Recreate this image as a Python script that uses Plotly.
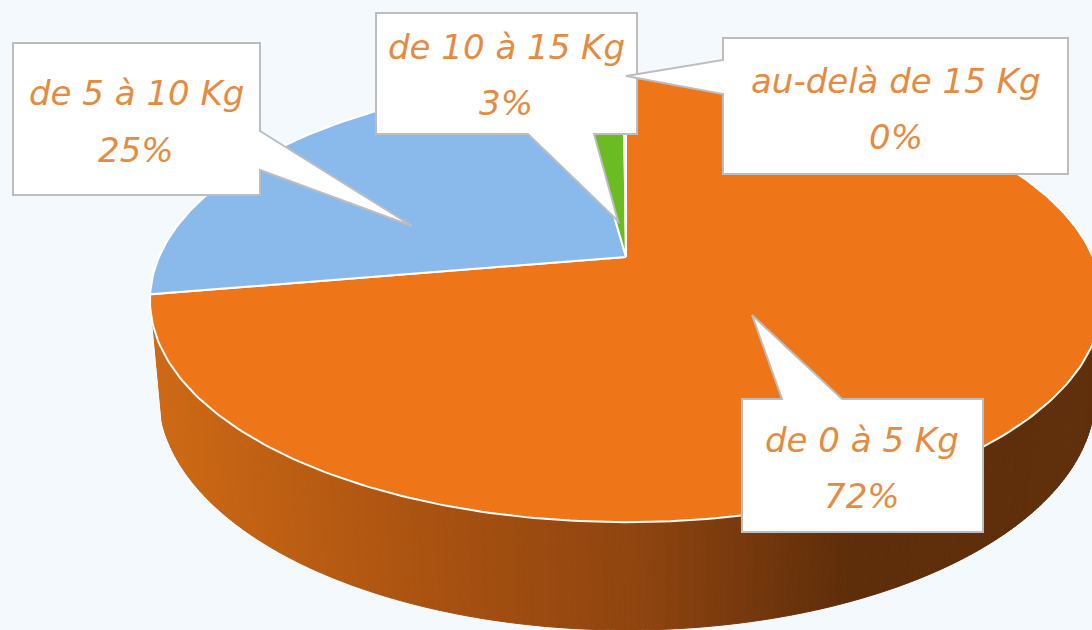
import math
import plotly.graph_objects as go

# Slice shares (clockwise from 12 o'clock)
categories = ["de 0 à 5 Kg", "de 5 à 10 Kg", "de 10 à 15 Kg", "au-delà de 15 Kg"]
values = [72.3, 25.6, 2.0, 0.1]
percent_labels = ["72%", "25%", "3%", "0%"]
slice_colors = ["#EF7519", "#8ABAEC", "#6ABC22", "#A5A5A5"]

W, H = 1092, 630
BG = "#F4F9FD"
TEXT = "#E58B3F"
BORDER = "#BDBDBD"
FONT = "DejaVu Sans"

# perspective view of the disc (pixel space of the axes)
CX, CY, A, B, K = 626, 257, 467, 213.7, 0.194
# underside of the disc
LOW_CX, LOW_CY, LOW_XS, LOW_YS = 627, 349.5, 0.983, 1.058


def project(theta, cx=CX, cy=CY, sx=1.0, sy=1.0):
    X, Y = math.sin(theta), math.cos(theta)
    w = 1 + K * Y
    return cx + sx * A * X / w, cy - sy * B * Y / w


def lerp_color(x):
    stops = [(150, (207, 106, 21)), (430, (169, 82, 17)), (640, (143, 68, 15)),
             (850, (94, 45, 10)), (1092, (96, 47, 11))]
    for (x0, c0), (x1, c1) in zip(stops, stops[1:]):
        if x <= x1:
            t = max(0, (x - x0) / (x1 - x0))
            return "rgb(%d,%d,%d)" % tuple(round(a + (b - a) * t) for a, b in zip(c0, c1))
    return "rgb(96,47,11)"


total = sum(values)
fig = go.Figure()

# side wall of the first slice: only its front arc is visible
end0 = values[0] / total * 2 * math.pi
t_start = math.acos(-K)
t_end = min(end0, 2 * math.pi - math.acos(-0.3))
N = 220
for i in range(N):
    t0 = t_start + (t_end - t_start) * i / N
    t1 = t_start + (t_end - t_start) * (i + 1) / N
    p0, p1 = project(t0), project(t1)
    q1 = project(t1, LOW_CX, LOW_CY, LOW_XS, LOW_YS)
    q0 = project(t0, LOW_CX, LOW_CY, LOW_XS, LOW_YS)
    c = lerp_color((p0[0] + p1[0] + q0[0] + q1[0]) / 4)
    fig.add_trace(go.Scatter(
        x=[p0[0], p1[0], q1[0], q0[0], p0[0]], y=[p0[1], p1[1], q1[1], q0[1], p0[1]],
        mode="lines", fill="toself", fillcolor=c, line=dict(color=c, width=1),
        hoverinfo="skip", showlegend=False))

# top face
cum = 0.0
for name, v, col in zip(categories, values, slice_colors):
    a0 = cum / total * 2 * math.pi
    cum += v
    a1 = cum / total * 2 * math.pi
    n = max(3, int(400 * v / total))
    pts = [project(a0 + (a1 - a0) * j / n) for j in range(n + 1)]
    xs = [CX] + [p[0] for p in pts] + [CX]
    ys = [CY] + [p[1] for p in pts] + [CY]
    fig.add_trace(go.Scatter(x=xs, y=ys, mode="lines", fill="toself", fillcolor=col,
                             line=dict(color="white", width=2), name=name,
                             hoverinfo="name", showlegend=False))

# callouts: box polygon with pointer, drawn B -> A -> D -> C so C's tip overlaps B
callouts = [
    "M376,13 L637,13 L637,134 L594,134 L618,221 L528,134 L376,134 Z",
    "M13,43 L260,43 L260,131 L412,226 L260,170 L260,195 L13,195 Z",
    "M742,399 L782,399 L752,315 L842,399 L983,399 L983,532 L742,532 Z",
    "M723,38 L1068,38 L1068,174 L723,174 L723,94 L626,76 L723,60 Z",
]
shapes = [dict(type="path", path=p, xref="x", yref="y", fillcolor="white",
               line=dict(color=BORDER, width=2), layer="above") for p in callouts]

label_pos = {0: (862, 440, 496), 1: (136, 93, 150), 2: (506, 47, 103), 3: (896, 81, 137)}
annotations = []
for i, (name, pct) in enumerate(zip(categories, percent_labels)):
    x, y1, y2 = label_pos[i]
    for txt, y in ((name, y1), (pct, y2)):
        annotations.append(dict(x=x, y=y, text=txt, xref="x", yref="y", showarrow=False,
                                xanchor="center", yanchor="middle",
                                font=dict(family=FONT, size=34, color=TEXT, style="italic")))

fig.update_layout(
    width=W, height=H, autosize=False,
    margin=dict(l=0, r=0, t=0, b=0),
    paper_bgcolor=BG, plot_bgcolor=BG,
    showlegend=False, shapes=shapes, annotations=annotations,
    xaxis=dict(range=[0, W], visible=False, fixedrange=True),
    yaxis=dict(range=[H, 0], visible=False, fixedrange=True),
)
fig.write_html(
    "out.html", config=dict(displayModeBar=False),
    post_script="document.documentElement.style.overflow='hidden';document.body.style.margin='0';document.body.style.background='%s';" % BG,
)
